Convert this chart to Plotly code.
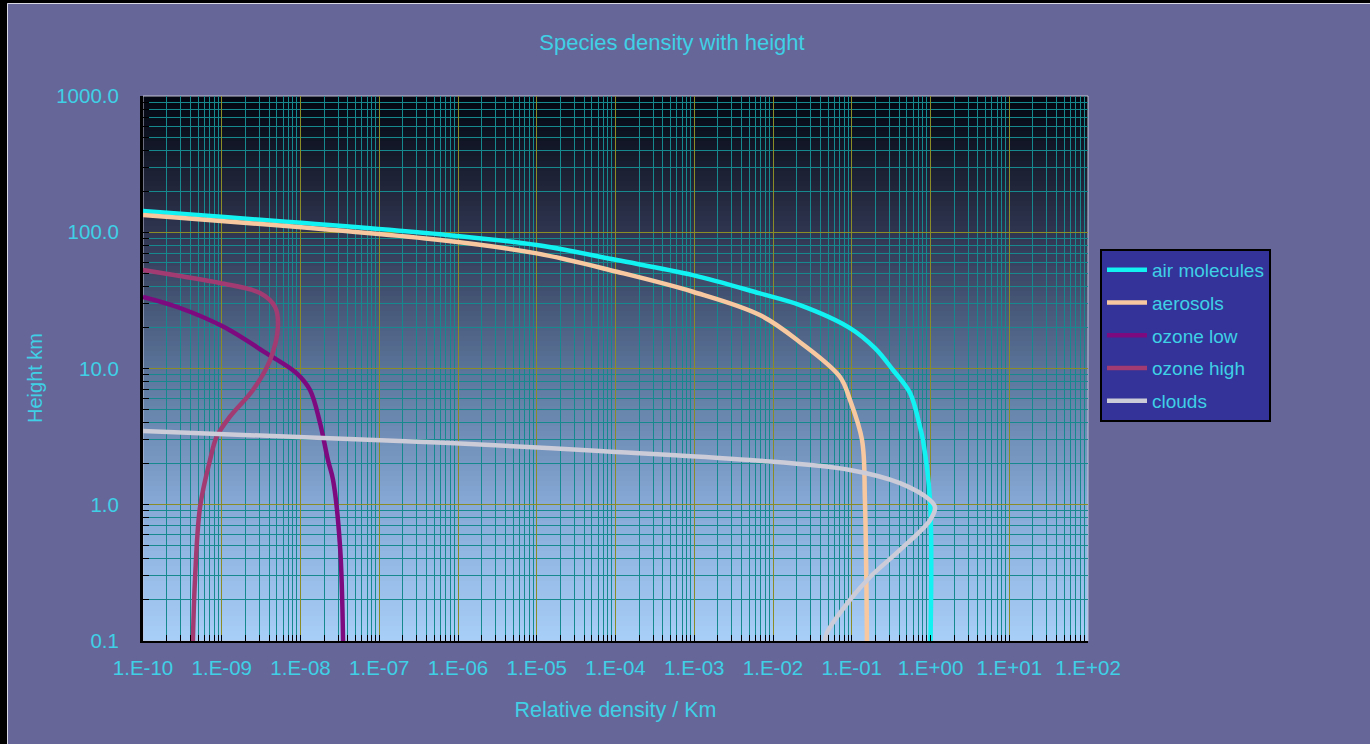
import plotly.graph_objects as go

# ---------------- data ----------------
x_tick_vals = [1e-10, 1e-9, 1e-8, 1e-7, 1e-6, 1e-5, 1e-4, 1e-3, 1e-2, 1e-1, 1e0, 1e1, 1e2]
x_tick_text = ["1.E-10", "1.E-09", "1.E-08", "1.E-07", "1.E-06", "1.E-05", "1.E-04",
               "1.E-03", "1.E-02", "1.E-01", "1.E+00", "1.E+01", "1.E+02"]
y_tick_vals = [0.1, 1, 10, 100, 1000]
y_tick_text = ["0.1", "1.0", "10.0", "100.0", "1000.0"]

series_names = ["air molecules", "aerosols", "ozone low", "ozone high", "clouds"]

air_x = [1e-10, 5.9e-7, 1.0e-5, 1.04e-4, 9.6e-4, 6.8e-3, 0.022, 0.095, 0.197, 0.334, 0.55, 0.736, 0.80, 0.986, 1.0]
air_h = [143, 96.6, 80.6, 62.5, 48.5, 35.6, 29.2, 19.8, 14.1, 9.75, 6.6, 3.72, 3.0, 1.08, 0.1]

aerosol_x = [1e-10, 5.9e-7, 1.0e-5, 1.04e-4, 9.6e-4, 6.8e-3, 0.022, 0.071, 0.095, 0.135, 0.147, 0.156]
aerosol_h = [134, 87.7, 70.0, 51.3, 36.6, 24.7, 15.6, 8.66, 5.87, 2.99, 1.08, 0.1]

ozone_low_x = [1e-10, 2.95e-10, 1.04e-9, 3.72e-9, 8.95e-9, 1.32e-8, 1.77e-8, 2.23e-8, 2.59e-8, 3.18e-8, 3.47e-8]
ozone_low_h = [33.5, 27.8, 20.3, 12.9, 9.22, 6.95, 3.98, 2.13, 1.52, 0.49, 0.1]

ozone_high_x = [1e-10, 2.95e-10, 9.5e-10, 3.06e-9, 4.74e-9, 5.17e-9, 4.1e-9, 2.49e-9, 1.27e-9,
                8.63e-10, 7.1e-10, 5.3e-10, 4.57e-10, 4.3e-10]
ozone_high_h = [52.8, 47.7, 42.4, 35.8, 28.4, 20.3, 11.5, 6.95, 4.43, 3.16, 2.13, 0.96, 0.28, 0.1]

clouds_x = [1e-10, 7.9e-7, 6.35e-5, 5.1e-3, 0.095, 0.41, 0.986, 1.14, 0.986, 0.41, 0.171, 0.095, 0.0485, 0.0457]
clouds_h = [3.48, 2.84, 2.48, 2.13, 1.80, 1.44, 1.08, 0.96, 0.77, 0.466, 0.295, 0.2, 0.115, 0.1]

# ---------------- style ----------------
series_colors = ["#12f2f2", "#f8c9a0", "#7e0a80", "#a23b72", "#cccbd8"]
text_color = "#3fd0e6"
font_family = "Liberation Sans, Arial, sans-serif"
paper_color = "#666699"

W, H = 1370, 744
ML, MR, MT, MB = 143, 282, 96, 103
pw = (W - ML - MR)
ph = (H - MT - MB)

fig = go.Figure()

xs = [air_x, aerosol_x, ozone_low_x, ozone_high_x, clouds_x]
hs = [air_h, aerosol_h, ozone_low_h, ozone_high_h, clouds_h]
for name, x, h, c in zip(series_names, xs, hs, series_colors):
    fig.add_trace(go.Scatter(
        x=x, y=h, name=name, mode="lines",
        line=dict(color=c, width=4.5, shape="spline", smoothing=1.0),
        legendgroup=name,
    ))

# gradient background (black at top -> light blue at bottom)
stops = [(0.0, (2, 6, 16)), (0.25, (47, 53, 80)), (0.5, (90, 116, 153)),
         (0.75, (134, 169, 214)), (1.0, (168, 207, 248))]


def grad_color(t):
    for (t0, c0), (t1, c1) in zip(stops[:-1], stops[1:]):
        if t0 <= t <= t1:
            f = (t - t0) / (t1 - t0)
            return "rgb(%d,%d,%d)" % tuple(round(a + (b - a) * f) for a, b in zip(c0, c1))
    return "rgb(%d,%d,%d)" % stops[-1][1]


n_bands = 109
shapes = []
for k in range(n_bands):
    t = (k + 0.5) / n_bands
    shapes.append(dict(type="rect", xref="x domain", yref="y domain",
                       x0=0, x1=1, y0=1 - (k + 1) / n_bands - 0.001, y1=1 - k / n_bands,
                       fillcolor=grad_color(t), line=dict(width=0), layer="below"))
shapes.append(dict(type="rect", xref="x domain", yref="y domain", x0=0, x1=1, y0=0, y1=1,
                   line=dict(color="#c4c4d6", width=1), fillcolor="rgba(0,0,0,0)", layer="below"))
# black frame strip at left/top of picture, with light line
shapes.append(dict(type="rect", xref="paper", yref="paper",
                   x0=(0 - ML) / pw, x1=(7 - ML) / pw, y0=-MB / ph, y1=(H - MB) / ph,
                   fillcolor="black", line=dict(width=0), layer="below"))
shapes.append(dict(type="rect", xref="paper", yref="paper",
                   x0=(0 - ML) / pw, x1=(W - ML) / pw, y0=(H - 3 - MB) / ph, y1=(H - MB) / ph,
                   fillcolor="black", line=dict(width=0), layer="below"))
shapes.append(dict(type="rect", xref="paper", yref="paper",
                   x0=(7.5 - ML) / pw, x1=(W + 2 - ML) / pw, y0=(-MB - 2) / ph, y1=(H - 3.5 - MB) / ph,
                   fillcolor="rgba(0,0,0,0)", line=dict(color="#d8d8e4", width=1), layer="below"))

minor_x = [m * v for v in x_tick_vals[:-1] for m in range(2, 10)]
minor_y = [m * v for v in y_tick_vals[:-1] for m in range(2, 10)]

fig.update_layout(
    width=W, height=H, autosize=False,
    margin=dict(l=ML, r=MR, t=MT, b=MB),
    paper_bgcolor=paper_color, plot_bgcolor="#7f9fc8",
    font=dict(family=font_family, color=text_color, size=20),
    title=dict(text="Species density with height", x=672 / W, xanchor="center",
               y=1 - 42 / H, yanchor="middle", yref="container",
               font=dict(size=22, color=text_color)),
    shapes=shapes,
    showlegend=True,
    legend=dict(x=(1100 - ML) / pw, xanchor="left", y=(H - MB - 249) / ph, yanchor="top",
                bgcolor="#333399", bordercolor="black", borderwidth=2,
                font=dict(size=19, color=text_color), itemwidth=40,
                traceorder="grouped", tracegroupgap=5),
    annotations=[dict(text="Height km", xref="paper", yref="paper",
                      x=(35 - ML) / pw, y=(H - MB - 378) / ph, xanchor="center", yanchor="middle",
                      textangle=-90, showarrow=False, font=dict(size=20, color=text_color))],
)

fig.update_xaxes(
    type="log", range=[-10, 2],
    tickmode="array", tickvals=x_tick_vals, ticktext=x_tick_text,
    tickfont=dict(size=20.5, color=text_color),
    showgrid=True, gridcolor="#8c8c26", gridwidth=1,
    ticks="inside", ticklen=6, tickcolor="black",
    showline=True, linecolor="black", linewidth=2,
    ticklabelstandoff=7,
    minor=dict(tickmode="array", tickvals=minor_x, showgrid=True, gridcolor="#16898e",
               gridwidth=1, ticks="inside", ticklen=6, tickcolor="black"),
    title=dict(text="Relative density / Km", font=dict(size=21.5, color=text_color), standoff=24),
    zeroline=False,
)
fig.update_yaxes(
    type="log", range=[-1, 3],
    tickmode="array", tickvals=y_tick_vals, ticktext=y_tick_text,
    tickfont=dict(size=20.5, color=text_color),
    showgrid=True, gridcolor="#8c8c26", gridwidth=1,
    ticks="inside", ticklen=6, tickcolor="black",
    showline=True, linecolor="black", linewidth=3,
    ticklabelstandoff=17,
    minor=dict(tickmode="array", tickvals=minor_y, showgrid=True, gridcolor="#16898e",
               gridwidth=1, ticks="inside", ticklen=6, tickcolor="black"),
    zeroline=False,
)

fig.write_html("out.html", config={"displayModeBar": False},
               post_script="document.body.style.margin='0';document.body.style.overflow='hidden';")
